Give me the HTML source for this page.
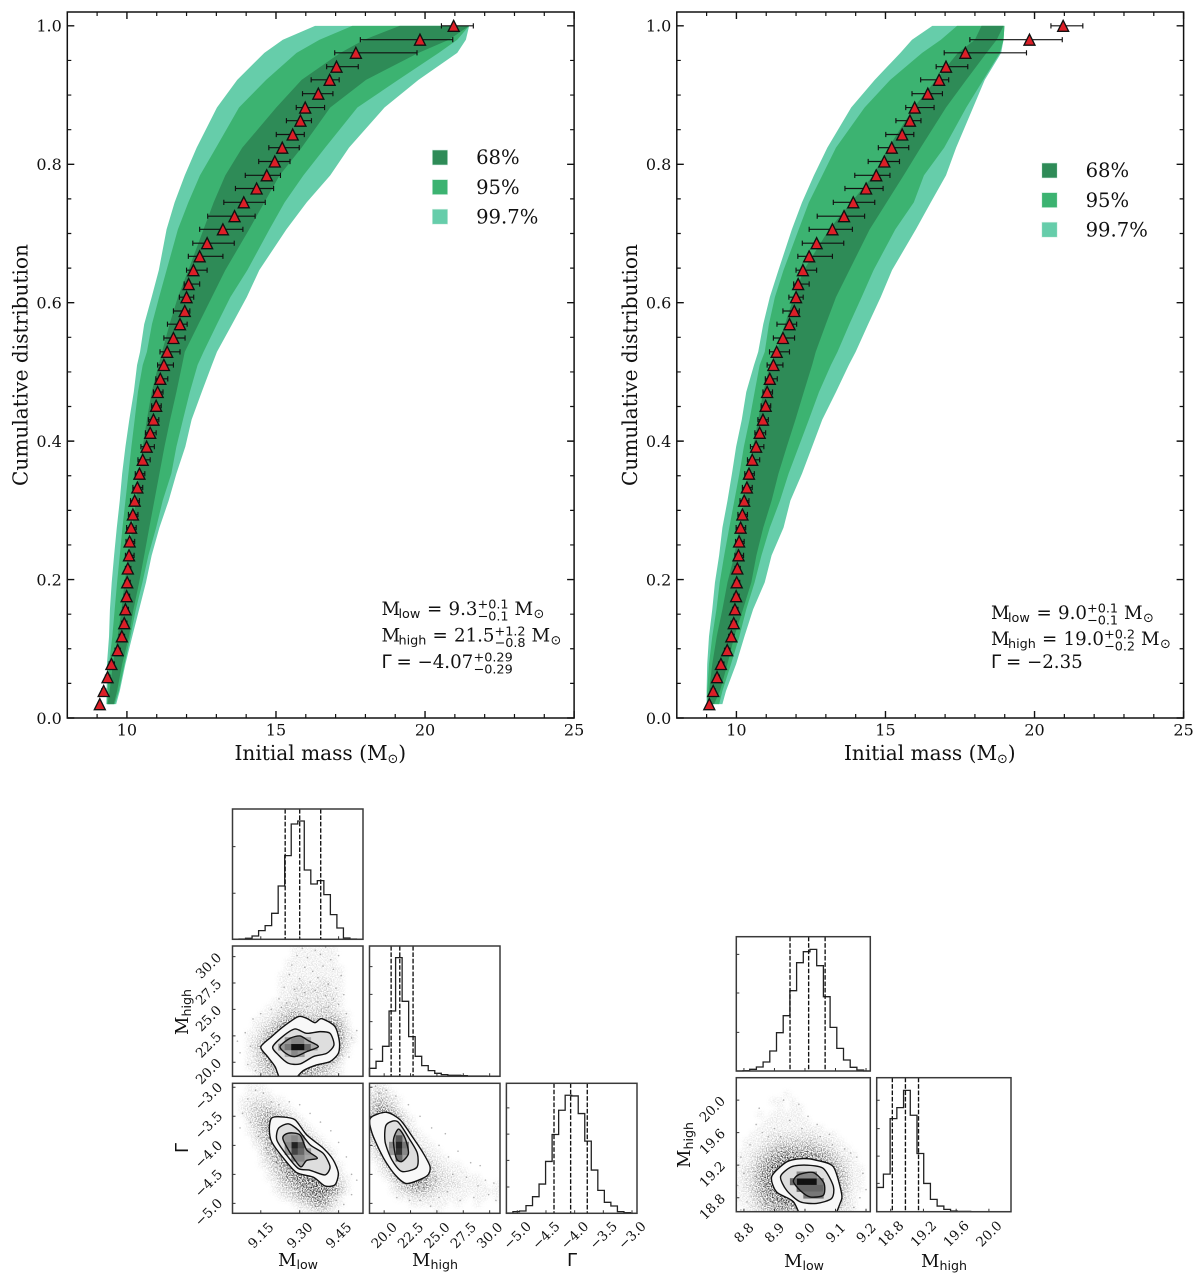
<!DOCTYPE html>
<html lang="en">
<head>
<meta charset="utf-8">
<title>Cumulative initial mass distributions and corner plots</title>
<style>
html,body{margin:0;padding:0;background:#fff;}
svg{display:block;}
text{font-family:"DejaVu Serif","Liberation Serif",serif;fill:#111;}
.tick{font-size:16px;}
.axis{font-size:20.1px;}
.legend{font-size:19.6px;}
.ann{font-size:18.2px;}
.annsans{font-size:18.2px;font-family:"DejaVu Sans","Liberation Sans",sans-serif;}
.small{font-size:12.8px;font-family:"DejaVu Sans","Liberation Sans",sans-serif;}
.ctick{font-size:13.4px;}
.clabel{font-size:18px;}
.csub{font-size:12.6px;font-family:"DejaVu Sans","Liberation Sans",sans-serif;}
.cgamma{font-size:18px;font-family:"DejaVu Sans","Liberation Sans",sans-serif;}
</style>
</head>
<body>
<svg id="figure" xmlns="http://www.w3.org/2000/svg" width="1200" height="1279" viewBox="0 0 1200 1279">
<defs>
<filter id="cloud-blur" x="-10%" y="-10%" width="120%" height="120%">
<feGaussianBlur in="SourceGraphic" stdDeviation="2" result="soft"/>
<feTurbulence type="fractalNoise" baseFrequency="0.8" numOctaves="2" seed="3" result="noise"/>
<feColorMatrix in="noise" type="matrix" values="0 0 0 0 0  0 0 0 0 0  0 0 0 0 0  0 0 0 3 -1.1" result="grain"/>
<feComposite in="soft" in2="grain" operator="in"/>
</filter>
</defs>
</svg>
<script>
/* ---------- cumulative distribution data ---------- */
const cumFraction = [.020,.039,.059,.078,.098,.118,.137,.157,.176,.196,.216,.235,.255,.275,.294,.314,.333,.353,.373,.392,.412,.431,.451,.471,.490,.510,.529,.549,.569,.588,.608,.627,.647,.667,.686,.706,.725,.745,.765,.784,.804,.824,.843,.863,.882,.902,.922,.941,.961,.980,1.0];
const initialMass = [9.09,9.22,9.35,9.48,9.69,9.83,9.91,9.95,9.99,10.01,10.03,10.07,10.09,10.14,10.20,10.26,10.35,10.42,10.53,10.66,10.78,10.89,10.98,11.03,11.12,11.24,11.35,11.56,11.78,11.94,12.00,12.07,12.23,12.44,12.69,13.22,13.61,13.92,14.35,14.69,14.96,15.21,15.56,15.82,15.98,16.42,16.80,17.03,17.68,19.83,20.96];
const massLow = [9.05,9.15,9.28,9.40,9.60,9.74,9.82,9.87,9.91,9.93,9.95,9.95,9.97,9.99,10.05,10.12,10.20,10.28,10.37,10.47,10.62,10.72,10.83,10.89,10.97,11.03,11.11,11.24,11.36,11.56,11.76,11.92,12.00,12.06,12.21,12.44,12.71,13.25,13.64,13.97,14.42,14.76,15.01,15.35,15.68,15.89,16.18,16.70,16.97,17.83,20.55];
const massHigh = [9.14,9.29,9.43,9.58,9.78,9.92,10.00,10.05,10.09,10.11,10.13,10.24,10.26,10.31,10.37,10.42,10.53,10.60,10.78,10.92,10.98,11.07,11.15,11.21,11.37,11.56,11.78,11.95,12.02,12.11,12.24,12.44,12.69,13.22,13.60,13.89,14.30,14.64,14.92,15.15,15.47,15.78,15.95,16.19,16.63,16.91,17.12,17.76,19.73,20.93,21.62];

const bandCum = [1,.980,.961,.922,.882,.824,.784,.745,.706,.647,.608,.569,.529,.510,.471,.431,.392,.353,.314,.275,.235,.196,.157,.118,.078,.039,.020];

const leftOuterLo = [16.31,15.23,14.61,13.70,13.02,12.34,11.94,11.60,11.33,11.07,10.83,10.58,10.44,10.34,10.23,10.08,9.95,9.84,9.76,9.66,9.57,9.49,9.43,9.40,9.33,9.32,9.31];
const leftMidLo = [17.56,16.46,15.69,14.67,13.76,12.99,12.45,12.06,11.71,11.33,11.08,10.84,10.67,10.53,10.37,10.26,10.15,10.05,9.95,9.85,9.76,9.67,9.59,9.51,9.40,9.35,9.33];
const leftCoreLo = [19.15,17.96,17.16,15.86,15.01,13.87,13.30,12.91,12.57,12.06,11.71,11.43,11.18,11.06,10.83,10.67,10.53,10.41,10.30,10.18,10.07,9.92,9.82,9.69,9.53,9.42,9.35];
const leftCoreHi = [21.48,20.80,19.78,18.02,16.82,15.86,15.12,14.61,14.10,13.30,12.85,12.40,11.94,11.85,11.66,11.45,11.26,11.09,10.92,10.75,10.58,10.41,10.22,10.07,9.84,9.67,9.56];
const leftMidHi = [21.48,21.08,20.46,19.10,17.73,16.65,15.92,15.29,14.78,14.04,13.47,13.02,12.57,12.37,12.11,11.88,11.66,11.49,11.20,10.98,10.72,10.52,10.30,10.12,9.92,9.73,9.59];
const leftOuterHi = [21.48,21.37,21.08,19.78,18.64,17.45,16.82,16.03,15.35,14.44,14.02,13.53,13.02,12.85,12.51,12.17,11.96,11.66,11.40,11.09,10.83,10.64,10.41,10.18,9.95,9.76,9.64];

const rightOuterLo = [16.57,15.89,15.50,14.64,13.85,13.05,12.60,12.20,11.86,11.41,11.12,10.90,10.73,10.59,10.33,10.18,9.99,9.85,9.70,9.53,9.42,9.28,9.19,9.08,9.02,9.00,9.00];
const rightMidLo = [17.40,16.86,16.23,15.16,14.30,13.34,12.88,12.43,12.09,11.58,11.29,11.09,10.95,10.78,10.61,10.44,10.25,10.10,9.93,9.76,9.59,9.44,9.33,9.19,9.08,9.02,9.02];
const rightCoreLo = [18.22,18.00,17.43,16.69,15.95,15.10,14.59,13.85,13.11,12.26,11.92,11.63,11.35,11.12,10.90,10.73,10.56,10.39,10.27,10.10,9.93,9.70,9.53,9.34,9.19,9.08,9.05];
const rightCoreHi = [18.96,18.73,18.39,17.71,17.03,16.18,15.61,15.04,14.47,13.79,13.34,13.00,12.66,12.54,12.26,11.98,11.69,11.41,11.18,10.90,10.67,10.50,10.22,9.93,9.70,9.45,9.25];
const rightMidHi = [18.99,18.96,18.84,18.28,17.71,16.97,16.29,15.95,15.33,14.60,14.20,13.79,13.39,13.17,12.77,12.43,12.09,11.75,11.46,11.12,10.84,10.61,10.33,10.10,9.82,9.53,9.42];
const rightOuterHi = [18.99,18.96,18.88,18.33,17.94,17.37,17.03,16.52,16.02,15.22,14.84,14.42,14.00,13.77,13.34,12.88,12.54,12.20,11.81,11.58,11.18,10.95,10.56,10.27,9.99,9.65,9.53];

const xMajor = [10,15,20,25];
const xMajorLabels = ["10","15","20","25"];
const xMinor = [9,11,12,13,14,16,17,18,19,21,22,23,24];
const yMajor = [0,.2,.4,.6,.8,1];
const yMajorLabels = ["0.0","0.2","0.4","0.6","0.8","1.0"];
const yMinor = [.05,.1,.15,.25,.3,.35,.45,.5,.55,.65,.7,.75,.85,.9,.95];
const legendLabels = ["68%","95%","99.7%"];
const bandColors = ["#2e8b57","#3cb371","#66cdaa"];

/* ---------- corner plot data: histograms ---------- */
const histLowA = [0,1,3,10,26,41,78,160,251,346,355,208,166,176,134,74,34,4,1,0];
const histHighA = [24,45,90,196,356,225,119,60,32,17,9,5,3,3,2,1,1,1,0,0];
const histGammaA = [1,5,7,23,50,88,156,237,310,355,353,300,217,130,69,33,22,5,2,0];
const histLowB = [0,1,5,12,27,60,115,166,241,325,358,365,316,223,131,68,33,11,3,0];
const histHighB = [73,113,280,313,365,290,175,85,37,17,7,2,1,1,0,0,0,0,0,0];

const quantLowA = [9.244,9.30,9.381];
const quantHighA = [20.66,21.48,22.74];
const quantGammaA = [-4.36,-4.07,-3.78];
const quantLowB = [8.951,9.012,9.066];
const quantHighB = [18.82,18.98,19.14];

const countTicksLowA = [138,278];
const countTicksHighA = [81,164,246,329];
const countTicksGammaA = [79,159,238,317];
const countTicksLowB = [116,234,350];
const countTicksHighB = [85,167,250,335];

const ticksLowA = [9.15,9.30,9.45];
const tickLabelsLowA = ["9.15","9.30","9.45"];
const ticksHighA = [20,22.5,25,27.5,30];
const tickLabelsHighA = ["20.0","22.5","25.0","27.5","30.0"];
const ticksGammaA = [-5,-4.5,-4,-3.5,-3];
const tickLabelsGammaA = ["\u22125.0","\u22124.5","\u22124.0","\u22123.5","\u22123.0"];
const ticksLowB = [8.8,8.9,9.0,9.1,9.2];
const tickLabelsLowB = ["8.8","8.9","9.0","9.1","9.2"];
const ticksHighB = [18.8,19.2,19.6,20.0];
const tickLabelsHighB = ["18.8","19.2","19.6","20.0"];

/* ---------- corner plot data: 2D density (rows top to bottom, 0-9) ---------- */
const densityAB = [
[0,0,0,0,0,0,0,0,0,1,1,1,1,1,1,1],
[0,0,0,0,0,0,0,0,0,1,1,1,1,1,1,1],
[0,0,0,0,0,0,0,0,1,1,1,1,1,1,1,1],
[0,0,0,0,0,0,0,0,1,1,1,1,1,1,1,1,1],
[0,0,0,0,0,0,0,1,1,1,1,1,1,1,1,1,1],
[0,0,0,0,0,0,0,1,1,1,2,1,1,2,2,1,1],
[0,0,0,0,0,0,0,1,1,2,2,2,2,2,2,1,1],
[0,0,0,0,0,0,0,1,1,2,2,2,2,2,2,2,1],
[0,0,0,0,0,0,1,1,2,2,2,2,2,2,2,2,1],
[0,0,0,0,0,1,1,2,3,3,3,2,2,3,3,2,1],
[0,0,0,0,1,1,2,3,4,5,4,3,3,3,3,3,2,1],
[0,0,0,1,1,2,3,5,6,7,6,6,5,5,6,6,4,1],
[0,0,0,1,2,3,5,7,8,9,8,7,7,8,8,7,5,2],
[0,0,1,1,3,5,7,8,9,9,9,9,9,9,9,8,6,2,1],
[0,0,1,2,4,6,8,9,9,9,9,9,9,9,9,9,6,2,1],
[0,0,1,3,5,7,8,9,9,9,9,9,9,9,9,8,5,2],
[0,0,1,2,5,6,8,9,9,9,9,9,9,9,8,7,4,1],
[0,0,1,2,4,6,7,8,8,8,9,8,8,7,6,5,2],
[0,0,1,2,3,5,6,7,7,8,8,7,6,5,4,2,1],
[0,0,0,1,3,4,5,6,7,7,7,6,5,4,3,2,1]];
const densityLowGamma = [
[0,0,1,1,1],
[0,0,1,1,1,1],
[0,1,1,2,2,2,1,1],
[0,1,2,3,3,3,2,1,1],
[0,1,2,3,4,5,4,3,2,1],
[0,0,2,3,5,6,6,5,4,2,1],
[0,0,1,3,5,7,8,8,6,4,2,1],
[0,0,1,2,4,6,8,9,8,6,4,2,1],
[0,0,0,2,3,6,8,9,9,8,6,4,2,1],
[0,0,0,1,2,5,7,9,9,9,8,6,4,2,1],
[0,0,0,0,2,4,6,8,9,9,9,8,5,3,2,1],
[0,0,0,0,1,3,5,7,9,9,9,9,7,5,3,1],
[0,0,0,0,1,2,4,6,8,9,9,9,9,7,4,2,1],
[0,0,0,0,0,1,3,5,7,9,9,9,9,8,6,3,1],
[0,0,0,0,0,1,2,4,6,8,9,9,9,9,7,4,2,1],
[0,0,0,0,0,0,1,3,4,6,8,9,9,9,8,6,3,1],
[0,0,0,0,0,0,1,2,3,4,6,8,9,9,9,7,4,1],
[0,0,0,0,0,0,0,1,2,3,5,6,8,8,6,3,1],
[0,0,0,0,0,0,0,0,0,1,2,3,5,6,5,2,1],
[0,0,0,0,0,0,0,0,0,0,1,1,2,3,2,1]];
const densityHighGamma = [
[1,2,1],
[2,3,2,1],
[3,4,3,2,1],
[4,6,5,3,1],
[5,7,7,5,3,1],
[6,8,9,7,5,2,1],
[6,8,9,8,6,3,1],
[5,8,9,9,8,5,2,1],
[4,7,9,9,9,6,3,1,1],
[3,6,8,9,9,8,5,2,1,1],
[1,4,7,9,9,9,6,4,2,1,1],
[1,2,5,8,9,9,8,6,3,2,1,1],
[0,1,3,6,8,9,9,8,5,3,2,1,1,1],
[0,1,2,4,7,9,9,9,6,4,2,2,1,1,1],
[0,0,1,3,5,8,9,9,7,4,3,2,2,1,1,1,1],
[0,0,0,1,3,5,7,7,6,4,3,2,2,2,1,1,1,1,0,1],
[0,0,0,1,2,3,4,5,4,3,2,2,1,1,1,1,1,1,1,1],
[0,0,0,0,1,1,2,2,2,2,1,1,1,1,1,0,1,1,0,1],
[0,0,0,0,0,0,1,1,1,1,1,1,0,1,0,0,1],
[0,0,0,0,0,0,0,0,0,0,1,0,0,0,0,0,0,0,0,0]];
const densityLowHighB = [
[],
[],
[0,0,0,0,0,0,0,1],
[0,0,0,0,0,1,1,0,1],
[0,0,0,0,0,0,1,0,1,1],
[0,0,0,1,0,1,1,1,1,1],
[0,0,0,0,1,1,1,1,1,1,1],
[0,0,0,1,1,1,1,1,1,1,1,1,1],
[0,0,1,1,1,2,2,2,2,2,2,2,1,1,1],
[0,1,1,1,2,2,3,3,3,3,3,3,2,2,1,1],
[0,1,1,2,3,4,5,5,5,5,5,5,4,3,2,1,1],
[1,1,2,3,4,6,7,8,8,8,8,7,6,5,3,2,1,1],
[1,1,2,4,6,8,9,9,9,9,9,9,8,6,5,3,2,1],
[1,2,3,5,7,9,9,9,9,9,9,9,9,8,6,4,2,1,1],
[1,2,3,6,8,9,9,9,9,9,9,9,9,9,7,5,3,1,1],
[1,2,3,6,8,9,9,9,9,9,9,9,9,9,8,5,3,1,1],
[1,2,3,5,8,9,9,9,9,9,9,9,9,9,7,5,3,1,1],
[1,1,3,5,7,8,9,9,9,9,9,9,9,9,7,5,2,1],
[1,1,2,4,6,7,8,9,8,8,8,8,8,8,6,4,2,1],
[0,1,2,3,5,6,7,7,6,6,6,6,7,7,5,3,2,1]];

/* ---------- corner plot data: outlying samples ---------- */
const samplesAB = [[9.31,30.8],[9.36,30.6],[9.40,30.9],[9.29,30.1],[9.33,29.9],[9.38,30.2],[9.42,29.7],[9.45,30.1],[9.27,29.2],[9.32,29.0],[9.35,28.6],[9.39,29.1],[9.43,28.8],[9.46,28.2],[9.26,28.3],[9.30,27.9],[9.34,27.6],[9.37,28.0],[9.41,27.4],[9.44,27.0],[9.24,27.1],[9.28,26.9],[9.32,26.6],[9.36,26.8],[9.40,26.3],[9.43,26.0],[9.47,26.4],[9.22,26.0],[9.25,25.6],[9.29,25.9],[9.33,25.3],[9.37,25.7],[9.41,25.2],[9.45,25.5],[9.19,25.0],[9.23,25.2],[9.12,24.1],[9.15,24.6],[9.09,22.8],[9.11,21.5],[9.07,20.9],[9.10,19.8],[9.13,19.2],[9.50,22.3],[9.52,23.0],[9.49,20.5],[9.48,24.6],[9.06,22.0]];
const samplesLowGamma = [[9.08,-3.45],[9.10,-3.2],[9.13,-3.05],[9.16,-3.1],[9.19,-3.25],[9.22,-3.3],[9.11,-3.6],[9.07,-3.7],[9.14,-3.85],[9.17,-4.05],[9.26,-3.25],[9.30,-3.3],[9.34,-3.45],[9.38,-3.6],[9.42,-3.75],[9.45,-3.95],[9.48,-4.2],[9.50,-4.5],[9.52,-4.6],[9.21,-4.3],[9.25,-4.55],[9.28,-4.75],[9.33,-4.85],[9.37,-4.95],[9.40,-5.0],[9.44,-4.95],[9.47,-5.02],[9.50,-4.85],[9.36,-5.05],[9.18,-4.15]];
const samplesHighGamma = [[25.2,-4.0],[26.1,-4.2],[27.0,-4.1],[28.2,-4.3],[29.1,-4.35],[27.8,-4.55],[28.9,-4.7],[29.6,-4.6],[30.4,-4.65],[30.6,-4.95],[29.9,-4.85],[28.5,-4.9],[27.2,-4.95],[26.0,-4.8],[25.2,-4.9],[24.4,-5.05],[23.4,-4.95],[22.4,-4.95],[21.2,-4.9],[25.8,-3.8],[24.5,-3.7],[23.4,-3.5],[22.3,-3.3],[21.1,-3.15],[20.2,-3.05],[19.2,-2.98],[19.5,-3.1],[26.5,-4.5],[24.9,-4.6],[23.8,-4.75]];
const samplesLowHighB = [[8.93,20.0],[8.98,19.95],[8.85,19.9],[9.01,19.8],[8.95,19.75],[8.99,19.65],[8.92,19.55],[8.86,19.6],[8.84,19.7],[9.05,19.55],[9.09,19.45],[8.97,19.5],[9.02,19.5],[9.13,19.4],[9.15,19.35],[8.82,19.45],[8.79,19.3],[8.8,19.1],[8.78,18.95],[9.17,19.3],[9.19,19.1],[9.2,18.9],[9.18,18.8],[9.16,18.68],[8.81,18.75],[8.79,18.65],[8.88,19.55],[9.08,19.58],[8.9,19.65],[9.04,19.7]];

/* ---------- corner plot data: credible contours (x values, y values) ---------- */
const contourABOuterX = [9.150,9.192,9.237,9.295,9.327,9.359,9.385,9.436,9.453,9.449,9.417,9.365,9.314,9.278,9.227,9.205,9.176];
const contourABOuterY = [21.45,22.43,23.38,24.32,24.16,23.75,24.13,23.38,21.96,20.85,20.06,19.75,19.21,18.40,18.40,19.59,20.54];
const contourABMidX = [9.196,9.237,9.282,9.327,9.378,9.417,9.432,9.404,9.353,9.301,9.256,9.218];
const contourABMidY = [21.45,22.49,23.15,22.74,22.90,22.74,21.64,20.85,20.54,19.84,19.91,20.69];
const contourABInnerX = [9.224,9.263,9.301,9.333,9.372,9.327,9.282,9.25];
const contourABInnerY = [21.48,22.27,22.49,22.05,21.48,21.01,20.54,20.79];

const contourLGOuterX = [9.192,9.231,9.282,9.327,9.391,9.429,9.449,9.436,9.397,9.353,9.288,9.237,9.192,9.183];
const contourLGOuterY = [-3.53,-3.51,-3.56,-3.82,-4.05,-4.25,-4.48,-4.68,-4.70,-4.55,-4.47,-4.22,-3.94,-3.71];
const contourLGMidX = [9.218,9.256,9.295,9.34,9.391,9.417,9.397,9.34,9.295,9.25,9.212];
const contourLGMidY = [-3.71,-3.63,-3.74,-3.99,-4.14,-4.37,-4.51,-4.43,-4.40,-4.17,-3.91];
const contourLGInnerX = [9.235,9.256,9.301,9.327,9.368,9.327,9.304,9.269];
const contourLGInnerY = [-3.88,-3.79,-3.82,-4.08,-4.22,-4.26,-4.37,-4.17];

const contourHGOuterX = [18.70,20.19,21.51,22.78,23.72,24.35,24.04,22.15,21.04,19.94,18.85];
const contourHGOuterY = [-3.53,-3.43,-3.56,-3.88,-4.14,-4.37,-4.53,-4.66,-4.51,-4.22,-3.79];
const contourHGMidX = [20.19,21.26,22.46,23.15,23.09,21.67,20.73,20.09];
const contourHGMidY = [-3.65,-3.59,-3.91,-4.14,-4.38,-4.45,-4.25,-3.94];
const contourHGInnerX = [20.88,21.36,21.99,22.30,21.67,21.14];
const contourHGInnerY = [-3.91,-3.72,-3.88,-4.14,-4.28,-4.22];

const contourBOuterX = [8.891,8.94,8.989,9.038,9.093,9.12,9.115,9.082,9.0,8.962,8.907];
const contourBOuterY = [19.06,19.24,19.28,19.26,19.18,18.85,18.73,18.50,18.50,18.75,18.87];
const contourBMidX = [8.92,8.956,9.005,9.06,9.093,9.087,9.038,8.984,8.94];
const contourBMidY = [19.06,19.18,19.2,19.16,18.94,18.79,18.73,18.75,18.89];
const contourBInnerX = [8.962,8.978,9.027,9.062,9.06,9.016,8.984];
const contourBInnerY = [19.0,19.08,19.11,18.98,18.83,18.81,18.89];

/* darkest 2D histogram bins: column, row, grey */
const coreAB = [[7,15,"#999"],[8,15,"#777"],[9,15,"#111"],[10,15,"#111"],[11,15,"#666"],[12,15,"#aaa"],[8,14,"#999"],[9,14,"#888"],[10,14,"#888"],[11,14,"#aaa"],[8,16,"#aaa"],[9,16,"#888"],[10,16,"#999"]];
const coreLG = [[9,9,"#222"],[9,10,"#444"],[10,9,"#555"],[10,10,"#666"],[8,9,"#888"],[8,8,"#999"],[9,8,"#888"],[10,8,"#999"],[9,11,"#888"],[10,11,"#888"],[8,10,"#999"],[11,10,"#999"]];
const coreHG = [[4,8,"#555"],[4,9,"#222"],[4,10,"#333"],[4,11,"#666"],[5,9,"#777"],[5,10,"#888"],[3,9,"#888"],[3,10,"#999"]];
const coreB = [[9,15,"#111"],[10,15,"#111"],[11,15,"#111"],[8,15,"#666"],[12,15,"#777"],[9,14,"#888"],[10,14,"#888"],[11,14,"#888"],[9,16,"#666"],[10,16,"#666"],[11,16,"#666"],[12,16,"#666"],[10,17,"#777"],[11,17,"#777"],[12,17,"#777"]];

/* ---------- helpers ---------- */
const NS = "http://www.w3.org/2000/svg";
const svg = document.getElementById("figure");
function mk(tag, attrs, parent){
  const e = document.createElementNS(NS, tag);
  for(const k in attrs){ e.setAttribute(k, attrs[k]); }
  (parent || svg).appendChild(e);
  return e;
}
function pts(xs, ys, sx, sy){
  return xs.map(function(v, i){ return sx(v).toFixed(2) + "," + sy(ys[i]).toFixed(2); }).join(" ");
}
function linear(d0, d1, p0, p1){
  return function(v){ return p0 + (v - d0) / (d1 - d0) * (p1 - p0); };
}
function smoothClosed(xs, ys, sx, sy){
  const P = xs.map(function(v, i){ return [sx(v), sy(ys[i])]; });
  const n = P.length, t = 0.13;
  let d = "M" + P[0][0].toFixed(2) + " " + P[0][1].toFixed(2);
  for(let i = 0; i < n; i++){
    const p0 = P[(i - 1 + n) % n], p1 = P[i], p2 = P[(i + 1) % n], p3 = P[(i + 2) % n];
    d += "C" + (p1[0] + (p2[0] - p0[0]) * t).toFixed(2) + " " + (p1[1] + (p2[1] - p0[1]) * t).toFixed(2) + " "
       + (p2[0] - (p3[0] - p1[0]) * t).toFixed(2) + " " + (p2[1] - (p3[1] - p1[1]) * t).toFixed(2) + " "
       + p2[0].toFixed(2) + " " + p2[1].toFixed(2);
  }
  return d + "Z";
}

/* ---------- main cumulative panels ---------- */
function drawMain(cfg){
  const T = 12, B = 718, L = cfg.left, R = cfg.left + 506.8;
  const sx = linear(8, 25, L, R);
  const sy = linear(0, 1.02, B, T);

  const g = mk("g", {});
  
  

  const outer = mk("polygon", {fill: bandColors[2], points: pts(cfg.outerLo.concat(cfg.outerHi.slice().reverse()), bandCum.concat(bandCum.slice().reverse()), sx, sy)}, g);
  
  
  const mid = mk("polygon", {fill: bandColors[1], points: pts(cfg.midLo.concat(cfg.midHi.slice().reverse()), bandCum.concat(bandCum.slice().reverse()), sx, sy)}, g);
  
  
  const core = mk("polygon", {fill: bandColors[0], points: pts(cfg.coreLo.concat(cfg.coreHi.slice().reverse()), bandCum.concat(bandCum.slice().reverse()), sx, sy)}, g);
  
  

  initialMass.forEach(function(m, i){
    const y = sy(cumFraction[i]);
    const bar = mk("path", {d: "M" + sx(massLow[i]) + " " + y + "H" + sx(massHigh[i]) + "M" + sx(massLow[i]) + " " + (y - 2.6) + "v5.2M" + sx(massHigh[i]) + " " + (y - 2.6) + "v5.2", stroke: "#111", "stroke-width": 1.15, fill: "none"}, g);
    
    
  });
  initialMass.forEach(function(m, i){
    const x = sx(m), y = sy(cumFraction[i]), r = 5.5;
    const tri = mk("polygon", {points: (x) + "," + (y - r) + " " + (x - r) + "," + (y + r) + " " + (x + r) + "," + (y + r), fill: "#dc1f27", stroke: "#111", "stroke-width": 1.35, "stroke-linejoin": "miter"}, g);
    
    
  });

  const frame = mk("rect", {x: L, y: T, width: R - L, height: B - T, fill: "none", stroke: "#111", "stroke-width": 1.5}, g);
  
  

  let d = "";
  xMinor.forEach(function(v){ const x = sx(v); d += "M" + x + " " + B + "v-4M" + x + " " + T + "v4"; });
  yMinor.forEach(function(v){ const y = sy(v); d += "M" + L + " " + y + "h4M" + R + " " + y + "h-4"; });
  const minor = mk("path", {d: d, stroke: "#111", "stroke-width": 1.2, fill: "none"}, g);
  
  
  d = "";
  xMajor.forEach(function(v){ const x = sx(v); d += "M" + x + " " + B + "v-7M" + x + " " + T + "v7"; });
  yMajor.forEach(function(v){ const y = sy(v); d += "M" + L + " " + y + "h7M" + R + " " + y + "h-7"; });
  const major = mk("path", {d: d, stroke: "#111", "stroke-width": 1.4, fill: "none"}, g);
  
  

  xMajor.forEach(function(v, i){
    const t = mk("text", {x: sx(v), y: 735.5, "text-anchor": "middle", class: "tick"}, g);
    t.textContent = xMajorLabels[i];
    
    
  });
  yMajor.forEach(function(v, i){
    const t = mk("text", {x: L - 5.5, y: sy(v) + 5.8, "text-anchor": "end", class: "tick"}, g);
    t.textContent = yMajorLabels[i];
    
    
  });

  const xl = mk("text", {x: L + 253, y: 760, "text-anchor": "middle", class: "axis"}, g);
  xl.innerHTML = 'Initial mass (M<tspan class="small" dy="3">\u2299</tspan><tspan dy="-3">)</tspan>';
  
  
  const ylx = L - 40, yly = 365;
  const yl = mk("text", {x: ylx, y: yly, "text-anchor": "middle", class: "axis", transform: "rotate(-90 " + ylx + " " + yly + ")"}, g);
  yl.textContent = "Cumulative distribution";
  
  

  legendLabels.forEach(function(lab, i){
    const yy = cfg.legendTop + i * 29.6;
    const sw = mk("rect", {x: L + 365, y: yy, width: 15.4, height: 15, fill: bandColors[i], stroke: "#d8f0e6", "stroke-width": 0.6}, g);
    
    
    const tx = mk("text", {x: L + 408.8, y: yy + 14.2, class: "legend"}, g);
    tx.textContent = lab;
    
    
  });

  const x0 = L + 314.2;
  cfg.annotation.forEach(function(piece){
    const t = mk("text", {x: x0 + piece[1], y: piece[2], class: piece[3]}, g);
    t.textContent = piece[0];
    
    
  });
}

const annotationLeft = [
["M",0,615,"ann"],["low",17,618,"small"],["=",45.5,615,"ann"],["9.3",67,615,"ann"],["+0.1",96,608.6,"small"],["\u22120.1",96,620.4,"small"],["M",133,615,"ann"],["\u2299",152,618,"small"],
["M",0,641.7,"ann"],["high",17,644.7,"small"],["=",51,641.7,"ann"],["21.5",72.5,641.7,"ann"],["+1.2",113,635.3,"small"],["\u22120.8",113,647,"small"],["M",150,641.7,"ann"],["\u2299",169,644.7,"small"],
["\u0393",0,668,"annsans"],["=",15,668,"ann"],["\u22124.07",36,668,"ann"],["+0.29",92,661.6,"small"],["\u22120.29",92,673.4,"small"]];
const annotationRight = [
["M",0,619,"ann"],["low",17,622,"small"],["=",45.5,619,"ann"],["9.0",67,619,"ann"],["+0.1",96,612.6,"small"],["\u22120.1",96,624.4,"small"],["M",133,619,"ann"],["\u2299",152,622,"small"],
["M",0,645,"ann"],["high",17,648,"small"],["=",51,645,"ann"],["19.0",72.5,645,"ann"],["+0.2",113,638.6,"small"],["\u22120.2",113,650.4,"small"],["M",150,645,"ann"],["\u2299",169,648,"small"],
["\u0393",0,668,"annsans"],["=",15,668,"ann"],["\u22122.35",36,668,"ann"]];

drawMain({left: 67.3, legendTop: 150, outerLo: leftOuterLo, outerHi: leftOuterHi, midLo: leftMidLo, midHi: leftMidHi, coreLo: leftCoreLo, coreHi: leftCoreHi, annotation: annotationLeft});
drawMain({left: 676.8, legendTop: 163, outerLo: rightOuterLo, outerHi: rightOuterHi, midLo: rightMidLo, midHi: rightMidHi, coreLo: rightCoreLo, coreHi: rightCoreHi, annotation: annotationRight});

/* ---------- corner panels ---------- */
const SPINE = "#3a3a3a";
function frameAndTicks(g, box, xTicks, sx, yTicks, sy){
  const fr = mk("rect", {x: box[0], y: box[2], width: box[1] - box[0], height: box[3] - box[2], fill: "none", stroke: SPINE, "stroke-width": 1.5}, g);
  
  
  let d = "";
  xTicks.forEach(function(v){ d += "M" + sx(v) + " " + box[3] + "v-3"; });
  yTicks.forEach(function(v){ d += "M" + box[0] + " " + sy(v) + "h3"; });
  const tk = mk("path", {d: d, stroke: "#333", "stroke-width": 1, fill: "none"}, g);
  
  
}
function bottomLabels(g, box, ticks, labels, sx, offset){
  ticks.forEach(function(v, i){
    const cx = sx(v), cy = box[3] + offset;
    const t = mk("text", {x: cx, y: cy + 4.6, "text-anchor": "middle", class: "ctick", transform: "rotate(-45 " + cx + " " + cy + ")"}, g);
    t.textContent = labels[i];
    
    
  });
}
function leftLabels(g, box, ticks, labels, sy){
  ticks.forEach(function(v, i){
    const cx = box[0] - 24, cy = sy(v) + 9;
    const t = mk("text", {x: cx, y: cy + 4.6, "text-anchor": "middle", class: "ctick", transform: "rotate(-45 " + cx + " " + cy + ")"}, g);
    t.textContent = labels[i];
    
    
  });
}
function drawHist(box, lim, values, maxCount, quants, xTicks, countTicks){
  const g = mk("g", {});
  
  
  const sx = linear(lim[0], lim[1], box[0], box[1]);
  const sy = linear(0, maxCount, box[3], box[2]);
  const w = (lim[1] - lim[0]) / values.length;
  let d = "M" + sx(lim[0]) + " " + sy(0);
  values.forEach(function(c, i){
    d += "L" + sx(lim[0] + i * w).toFixed(2) + " " + sy(c).toFixed(2) + "L" + sx(lim[0] + (i + 1) * w).toFixed(2) + " " + sy(c).toFixed(2);
  });
  const step = mk("path", {d: d, fill: "none", stroke: "#222", "stroke-width": 1.3}, g);
  
  
  quants.forEach(function(q){
    const ql = mk("line", {x1: sx(q), x2: sx(q), y1: box[2], y2: box[3], stroke: "#111", "stroke-width": 1.35, "stroke-dasharray": "4.6 1.8"}, g);
    
    
  });
  frameAndTicks(g, box, xTicks, sx, countTicks, sy);
  return {g: g, sx: sx};
}
let clipCounter = 0;
function drawJoint(box, xlim, ylim, density, samples, contours, core, xTicks, yTicks){
  const g = mk("g", {});
  
  
  const sx = linear(xlim[0], xlim[1], box[0], box[1]);
  const sy = linear(ylim[0], ylim[1], box[3], box[2]);
  const id = "panel-clip-" + (++clipCounter);
  const cp = mk("clipPath", {id: id}, g);
  mk("rect", {x: box[0], y: box[2], width: box[1] - box[0], height: box[3] - box[2]}, cp);
  const inner = mk("g", {"clip-path": "url(#" + id + ")"}, g);
  const cw = (box[1] - box[0]) / 20, ch = (box[3] - box[2]) / 20;

  const cloud = mk("g", {filter: "url(#cloud-blur)"}, inner);
  
  
  density.forEach(function(row, r){
    row.forEach(function(v, c){
      if(!v){ return; }
      const cell = mk("rect", {x: box[0] + c * cw, y: box[2] + r * ch, width: cw + 0.4, height: ch + 0.4, fill: "#000", "fill-opacity": (v * 0.095).toFixed(3)}, cloud);
      
      
    });
  });
  samples.forEach(function(s){
    const dot = mk("circle", {cx: sx(s[0]), cy: sy(s[1]), r: 0.8, fill: "#000", "fill-opacity": 0.3}, inner);
    
    
  });

  const outerC = mk("path", {d: smoothClosed(contours[0], contours[1], sx, sy), fill: "#f8f8f8"}, inner);
  
  
  const midC = mk("path", {d: smoothClosed(contours[2], contours[3], sx, sy), fill: "#dedede"}, inner);
  
  
  const innerC = mk("path", {d: smoothClosed(contours[4], contours[5], sx, sy), fill: "#a4a4a4"}, inner);
  
  
  core.forEach(function(b){
    const cell = mk("rect", {x: box[0] + b[0] * cw, y: box[2] + b[1] * ch, width: cw + 0.3, height: ch + 0.3, fill: b[2]}, inner);
    
    
  });
  [[0,1],[2,3],[4,5]].forEach(function(p){
    const line = mk("path", {d: smoothClosed(contours[p[0]], contours[p[1]], sx, sy), fill: "none", stroke: "#111", "stroke-width": 1.4, "stroke-linejoin": "round"}, inner);
    
    
  });
  frameAndTicks(g, box, xTicks, sx, yTicks, sy);
  return {g: g, sx: sx, sy: sy};
}
function cornerLabel(x, y, html, rotated, cls){
  const attrs = {x: x, y: y, "text-anchor": "middle", class: cls};
  if(rotated){ attrs.transform = "rotate(-90 " + x + " " + y + ")"; }
  const t = mk("text", attrs);
  t.innerHTML = html;
  
  
}

const colA = [[232.5,363],[369.5,500],[506.4,637]];
const rowA = [[809,939.3],[946,1076.3],[1083.3,1213.3]];
const colB = [[736.3,870.3],[876.7,1011]];
const rowB = [[936.7,1071],[1077.7,1211.7]];
const lowLimA = [9.041,9.544], highLimAx = [18.61,30.98], highLimAy = [18.675,31.0], gammaLimX = [-5.19,-2.913], gammaLimY = [-5.172,-2.931];
const lowLimB = [8.775,9.214], highLimBx = [18.629,20.27], highLimBy = [18.628,20.275];

const h1 = drawHist([colA[0][0],colA[0][1],rowA[0][0],rowA[0][1]], lowLimA, histLowA, 391, quantLowA, ticksLowA, countTicksLowA);
const j1 = drawJoint([colA[0][0],colA[0][1],rowA[1][0],rowA[1][1]], lowLimA, highLimAy, densityAB, samplesAB,
  [contourABOuterX,contourABOuterY,contourABMidX,contourABMidY,contourABInnerX,contourABInnerY], coreAB, ticksLowA, ticksHighA);
leftLabels(j1.g, [colA[0][0],colA[0][1],rowA[1][0],rowA[1][1]], ticksHighA, tickLabelsHighA, j1.sy);
const h2 = drawHist([colA[1][0],colA[1][1],rowA[1][0],rowA[1][1]], highLimAx, histHighA, 391, quantHighA, ticksHighA, countTicksHighA);
const j2 = drawJoint([colA[0][0],colA[0][1],rowA[2][0],rowA[2][1]], lowLimA, gammaLimY, densityLowGamma, samplesLowGamma,
  [contourLGOuterX,contourLGOuterY,contourLGMidX,contourLGMidY,contourLGInnerX,contourLGInnerY], coreLG, ticksLowA, ticksGammaA);
leftLabels(j2.g, [colA[0][0],colA[0][1],rowA[2][0],rowA[2][1]], ticksGammaA, tickLabelsGammaA, j2.sy);
bottomLabels(j2.g, [colA[0][0],colA[0][1],rowA[2][0],rowA[2][1]], ticksLowA, tickLabelsLowA, j2.sx, 22);
const j3 = drawJoint([colA[1][0],colA[1][1],rowA[2][0],rowA[2][1]], highLimAx, gammaLimY, densityHighGamma, samplesHighGamma,
  [contourHGOuterX,contourHGOuterY,contourHGMidX,contourHGMidY,contourHGInnerX,contourHGInnerY], coreHG, ticksHighA, ticksGammaA);
bottomLabels(j3.g, [colA[1][0],colA[1][1],rowA[2][0],rowA[2][1]], ticksHighA, tickLabelsHighA, j3.sx, 22);
const h3 = drawHist([colA[2][0],colA[2][1],rowA[2][0],rowA[2][1]], gammaLimX, histGammaA, 391, quantGammaA, ticksGammaA, countTicksGammaA);
bottomLabels(h3.g, [colA[2][0],colA[2][1],rowA[2][0],rowA[2][1]], ticksGammaA, tickLabelsGammaA, h3.sx, 22);

const h4 = drawHist([colB[0][0],colB[0][1],rowB[0][0],rowB[0][1]], lowLimB, histLowB, 403, quantLowB, ticksLowB, countTicksLowB);
const j4 = drawJoint([colB[0][0],colB[0][1],rowB[1][0],rowB[1][1]], lowLimB, highLimBy, densityLowHighB, samplesLowHighB,
  [contourBOuterX,contourBOuterY,contourBMidX,contourBMidY,contourBInnerX,contourBInnerY], coreB, ticksLowB, ticksHighB);
leftLabels(j4.g, [colB[0][0],colB[0][1],rowB[1][0],rowB[1][1]], ticksHighB, tickLabelsHighB, j4.sy);
bottomLabels(j4.g, [colB[0][0],colB[0][1],rowB[1][0],rowB[1][1]], ticksLowB, tickLabelsLowB, j4.sx, 21);
const h5 = drawHist([colB[1][0],colB[1][1],rowB[1][0],rowB[1][1]], highLimBx, histHighB, 403, quantHighB, ticksHighB, countTicksHighB);
bottomLabels(h5.g, [colB[1][0],colB[1][1],rowB[1][0],rowB[1][1]], ticksHighB, tickLabelsHighB, h5.sx, 22);

const lowHtml = 'M<tspan class="csub" dy="3">low</tspan>';
const highHtml = 'M<tspan class="csub" dy="3">high</tspan>';
cornerLabel(298, 1266, lowHtml, false, "clabel");
cornerLabel(435, 1266, highHtml, false, "clabel");
cornerLabel(572, 1266, "\u0393", false, "cgamma");
cornerLabel(188, 1012, highHtml, true, "clabel");
cornerLabel(188, 1148, "\u0393", true, "cgamma");
cornerLabel(804, 1267, lowHtml, false, "clabel");
cornerLabel(944, 1267, highHtml, false, "clabel");
cornerLabel(690, 1145, highHtml, true, "clabel");
</script>
</body>
</html>
